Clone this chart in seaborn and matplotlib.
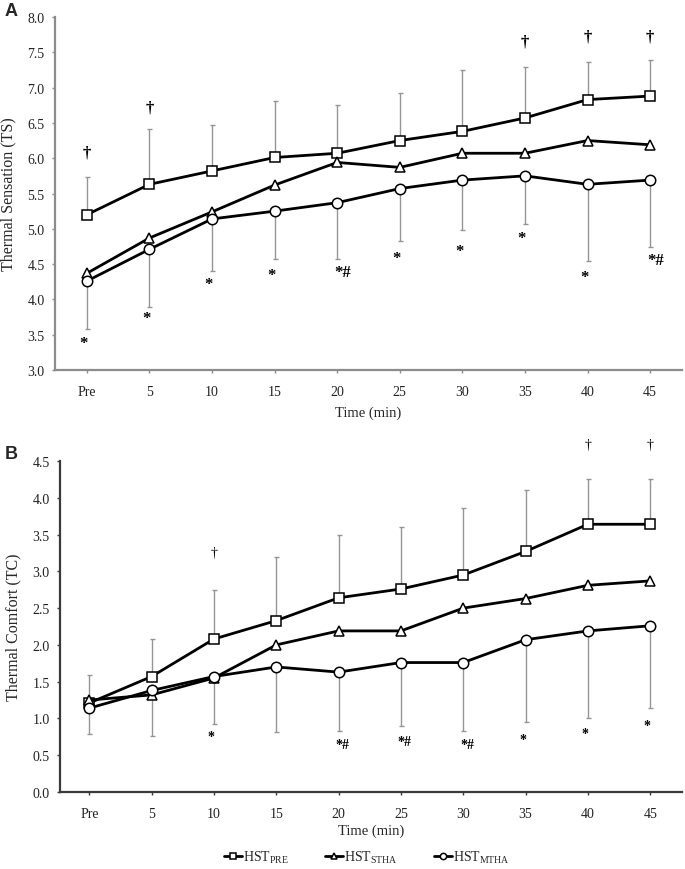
import numpy as np
import pandas as pd
import matplotlib
matplotlib.use("Agg")
import matplotlib.pyplot as plt
import seaborn as sns

# ---------------- data ----------------
time_labels = ["Pre", "5", "10", "15", "20", "25", "30", "35", "40", "45"]

# Panel A: Thermal Sensation
ts_pre = [5.20, 5.63, 5.82, 6.01, 6.07, 6.25, 6.38, 6.57, 6.83, 6.88]
ts_pre_upper = [5.74, 6.42, 6.47, 6.81, 6.75, 6.93, 7.25, 7.29, 7.36, 7.39]
ts_stha = [4.37, 4.87, 5.24, 5.62, 5.94, 5.87, 6.07, 6.07, 6.25, 6.19]
ts_mtha = [4.26, 4.71, 5.14, 5.25, 5.37, 5.57, 5.69, 5.75, 5.63, 5.69]
ts_mtha_lower = [3.58, 3.89, 4.40, 4.57, 4.57, 4.83, 4.98, 5.07, 4.55, 4.74]
ts_star_text = ["*", "*", "*", "*", "*#", "*", "*", "*", "*", "*#"]
ts_star_y = [3.38, 3.74, 4.22, 4.35, 4.39, 4.58, 4.68, 4.87, 4.32, 4.56]
ts_dagger_idx = [0, 1, 7, 8, 9]
ts_dagger_y = [6.08, 6.72, 7.66, 7.72, 7.72]

# Panel B: Thermal Comfort
tc_pre = [1.21, 1.57, 2.08, 2.33, 2.64, 2.76, 2.95, 3.27, 3.64, 3.64]
tc_pre_upper = [1.59, 2.08, 2.75, 3.19, 3.50, 3.60, 3.86, 4.11, 4.25, 4.25]
tc_stha = [1.25, 1.32, 1.55, 2.00, 2.19, 2.19, 2.50, 2.63, 2.81, 2.87]
tc_mtha = [1.14, 1.38, 1.57, 1.70, 1.63, 1.76, 1.76, 2.07, 2.19, 2.26]
tc_mtha_lower = [0.79, 0.76, 0.93, 0.81, 0.83, 0.90, 0.83, 0.95, 1.01, 1.14]
tc_star_idx = [2, 4, 5, 6, 7, 8, 9]
tc_star_text = ["*", "*#", "*#", "*#", "*", "*", "*"]
tc_star_y = [0.75, 0.64, 0.69, 0.64, 0.72, 0.80, 0.90]
tc_dagger_idx = [2, 8, 9]
tc_dagger_y = [3.26, 4.73, 4.73]

series_names = [r"HST$_{\mathrm{PRE}}$", r"HST$_{\mathrm{STHA}}$", r"HST$_{\mathrm{MTHA}}$"]
series_markers = ["s", "^", "o"]

# ---------------- style ----------------
sns.set_theme(style="ticks")
plt.rcParams["font.family"] = ["Liberation Serif", "DejaVu Serif"]
plt.rcParams["mathtext.fontset"] = "custom"
plt.rcParams["mathtext.rm"] = "Liberation Serif"
plt.rcParams["mathtext.it"] = "Liberation Serif:italic"
plt.rcParams["mathtext.bf"] = "Liberation Serif:bold"

W, H = 685, 870
fig = plt.figure(figsize=(W / 100, H / 100), dpi=100)


def ax_rect(left, right, top, bottom):
    return [left / W, 1 - bottom / H, (right - left) / W, (bottom - top) / H]


axA = fig.add_axes(ax_rect(55, 682, 18, 371))
axB = fig.add_axes(ax_rect(60, 682, 462, 793))

x = np.arange(len(time_labels))


def draw_panel(ax, pre, pre_up, stha, mtha, mtha_low, spine_color):
    pre = np.array(pre)
    mtha = np.array(mtha)
    ax.errorbar(x, pre, yerr=[np.zeros_like(pre), np.array(pre_up) - pre],
                fmt="none", ecolor="#959595", elinewidth=1.0, capsize=1.8,
                capthick=1.0, zorder=1)
    ax.errorbar(x, mtha, yerr=[mtha - np.array(mtha_low), np.zeros_like(mtha)],
                fmt="none", ecolor="#959595", elinewidth=1.0, capsize=1.8,
                capthick=1.0, zorder=1)
    for vals, mk, name in zip([pre, stha, mtha], series_markers, series_names):
        df = pd.DataFrame({"t": x, "v": vals})
        sns.lineplot(data=df, x="t", y="v", ax=ax, color="black", lw=2.0,
                     marker=mk, markersize=7.5 if mk != "^" else 6.5,
                     markerfacecolor="white", markeredgecolor="black",
                     markeredgewidth=1.1, label=name, legend=False, zorder=3)
    sns.despine(ax=ax)
    for s in ["left", "bottom"]:
        ax.spines[s].set_color(spine_color)
        ax.spines[s].set_linewidth(1.6)
    ax.set_xticks(x)
    ax.set_xticklabels(time_labels)
    ax.tick_params(axis="both", colors="#222222", labelsize=10, length=2.5,
                   width=1.0, pad=8)
    ax.tick_params(axis="x", color=spine_color)
    ax.tick_params(axis="y", color=spine_color, pad=5)


draw_panel(axA, ts_pre, ts_pre_upper, ts_stha, ts_mtha, ts_mtha_lower, "#8c8c8c")
axA.set_xlim(-0.51, 9.51)
axA.set_ylim(3.0, 8.0)
axA.set_yticks(np.arange(3.0, 8.01, 0.5))
axA.set_yticklabels([f"{v:.1f}" for v in np.arange(3.0, 8.01, 0.5)])
axA.set_ylabel("Thermal Sensation (TS)", fontsize=11.5, labelpad=8)
axA.set_xlabel("Time (min)", fontsize=10.5, labelpad=6)
for i, txt, yv in zip(range(len(ts_star_text)), ts_star_text, ts_star_y):
    axA.text(x[i] - 0.05, yv, txt, ha="left" if "#" in txt else "center",
             va="center", fontsize=12, fontweight="bold", color="black")
for i, yv in zip(ts_dagger_idx, ts_dagger_y):
    axA.text(x[i], yv, "†", ha="center", va="center", fontsize=12, color="black",
             fontweight="bold", clip_on=False)

draw_panel(axB, tc_pre, tc_pre_upper, tc_stha, tc_mtha, tc_mtha_lower, "#3a3a3a")
axB.set_xlim(-0.47, 9.51)
axB.set_ylim(0.0, 4.5)
axB.set_yticks(np.arange(0.0, 4.51, 0.5))
axB.set_yticklabels([f"{v:.1f}" for v in np.arange(0.0, 4.51, 0.5)])
axB.set_ylabel("Thermal Comfort (TC)", fontsize=11.5, labelpad=8)
axB.set_xlabel("Time (min)", fontsize=10.5, labelpad=3)
for i, txt, yv in zip(tc_star_idx, tc_star_text, tc_star_y):
    axB.text(x[i] - 0.05, yv, txt, ha="left" if "#" in txt else "center",
             va="center", fontsize=10, fontweight="bold", color="black")
for i, yv in zip(tc_dagger_idx, tc_dagger_y):
    axB.text(x[i], yv, "†", ha="center", va="center", fontsize=10, color="black",
             clip_on=False)

# panel letters
fig.text(5 / W, 1 - 12 / H, "A", fontsize=13, fontweight="bold",
         family="Liberation Sans", va="center", ha="left")
fig.text(5 / W, 1 - 455 / H, "B", fontsize=13, fontweight="bold",
         family="Liberation Sans", va="center", ha="left")

# legend
handles, labels = axB.get_legend_handles_labels()
fig.legend(handles, labels, loc="center", ncol=3,
           bbox_to_anchor=(367 / W, 1 - 858 / H), frameon=False, fontsize=10,
           handlelength=1.3, handletextpad=0.1, columnspacing=2.6,
           markerscale=0.6)

fig.savefig("out.png", dpi=100)
